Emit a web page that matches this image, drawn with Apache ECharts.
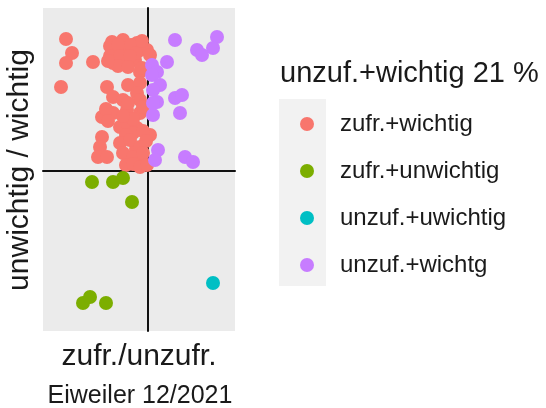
<!DOCTYPE html>
<html>
<head>
<meta charset="utf-8">
<script src="https://cdn.jsdelivr.net/npm/echarts@6/dist/echarts.min.js"></script>
<style>
  html, body { margin: 0; padding: 0; background: #fff; }
  #chart { width: 546px; height: 408px; }
</style>
</head>
<body>
<div id="chart"></div>
<script>
(function(){
  var categories = ['zufr.+wichtig', 'zufr.+unwichtig', 'unzuf.+uwichtig', 'unzuf.+wichtg'];
  var colors = ['#F8766D', '#7CAE00', '#00BFC4', '#C77CFF'];
  var zufrWichtig = [
    [-82,132],[-76,118],[-82,108],[-87,84],[-55,109],[-36,129],[-25,131],[-11,128],
    [-33,119],[-21,121],[-8,121],[-35,108],[-25,109],[-13,111],[-1,121],[2,116],
    [-38,125],[-30,126],[-17,126],[-12,118],[-38,115],[-28,115],[-18,115],[-30,105],
    [-20,104],[-40,110],[-6,130],
    [-41,84],[-20,86],[-8,99],[-8,88],[-6,103],[-35,74],[-25,71],[-11,78],[-8,71],
    [-46,54],[-35,58],[-21,61],[-8,58],[-5,64],[-28,44],[-21,48],[-11,43],[2,36],
    [-42,62],[-40,50],[-20,68],[-15,52],[-25,55],[-15,38],[-5,40],[-22,36],[-12,22],
    [-2,30],[-20,14],[-8,12],
    [-46,34],[-48,24],[-50,14],[-41,14],[-28,28],[-18,31],[-8,24],[-25,18],[-15,14],
    [-5,18],[-22,6],[-15,7],[-8,4],[-1,6]
  ];
  var zufrUnwichtig = [[-56,-11],[-35,-11],[-25,-7],[-16,-31],[-65,-132],[-58,-126],[-42,-132]];
  var unzufUnwichtig = [[65,-112]];
  var unzufWichtig = [
    [27,131],[69,134],[65,123],[49,121],[54,116],[19,109],[4,106],[9,99],[4,96],
    [12,86],[5,81],[27,73],[34,76],[32,58],[9,69],[5,56],[5,68],[10,21],[7,11],[37,14],[45,9]
  ];
  var seriesData = [zufrWichtig, zufrUnwichtig, unzufUnwichtig, unzufWichtig];

  var font = '"Liberation Sans", Arial, sans-serif';
  var chart = echarts.init(document.getElementById('chart'), null, {renderer: 'canvas'});

  var series = categories.map(function(name, i){
    return {
      name: name, type: 'scatter', data: seriesData[i],
      symbol: 'circle', symbolSize: 14,
      itemStyle: {color: colors[i], opacity: 1},
      emphasis: {disabled: true}
    };
  });

  chart.setOption({
    animation: false,
    grid: {left: 43, top: 8, width: 192, height: 323, show: true,
           backgroundColor: '#EBEBEB', borderWidth: 0},
    xAxis: {type: 'value', min: -105, max: 87,
      axisLine: {show: true, onZero: true, lineStyle: {color: '#111', width: 2}},
      axisTick: {show: false}, axisLabel: {show: false}, splitLine: {show: false}},
    yAxis: {type: 'value', min: -160, max: 163,
      axisLine: {show: true, onZero: true, lineStyle: {color: '#111', width: 2}},
      axisTick: {show: false}, axisLabel: {show: false}, splitLine: {show: false}},
    legend: {
      data: categories, orient: 'vertical', left: 295, top: 107,
      icon: 'circle', itemWidth: 14, itemHeight: 14, itemGap: 23,
      selectedMode: false,
      textStyle: {fontFamily: font, fontSize: 24, color: '#1a1a1a', padding: [0, 0, 0, 21]}
    },
    graphic: [
      {type: 'rect', left: 279, top: 99, z: -1, silent: true,
       shape: {width: 47, height: 187}, style: {fill: '#F2F2F2'}},
      {type: 'text', x: 280, y: 74, silent: true,
       style: {text: 'unzuf.+wichtig 21 %', font: '29px ' + font, fill: '#1a1a1a',
               textAlign: 'left', textVerticalAlign: 'middle'}},
      {type: 'text', x: 139, y: 357, silent: true,
       style: {text: 'zufr./unzufr.', font: '30px ' + font, fill: '#1a1a1a',
               textAlign: 'center', textVerticalAlign: 'middle'}},
      {type: 'text', x: 20, y: 170, rotation: Math.PI / 2, silent: true,
       style: {text: 'unwichtig / wichtig', font: '30px ' + font, fill: '#1a1a1a',
               textAlign: 'center', textVerticalAlign: 'middle'}},
      {type: 'text', x: 140, y: 396, silent: true,
       style: {text: 'Eiweiler 12/2021', font: '25px ' + font, fill: '#1a1a1a',
               textAlign: 'center', textVerticalAlign: 'middle'}}
    ],
    series: series
  });
})();
</script>
</body>
</html>
